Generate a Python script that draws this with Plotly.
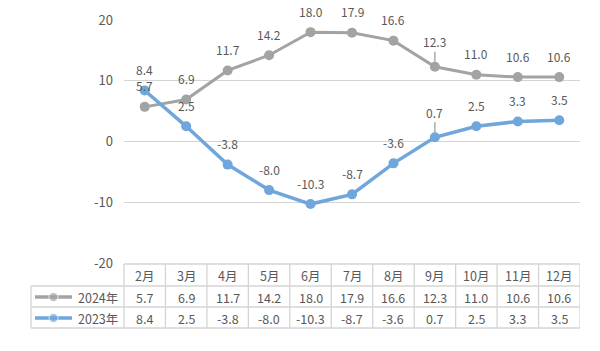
import plotly.graph_objects as go

months = ["2月", "3月", "4月", "5月", "6月", "7月", "8月", "9月", "10月", "11月", "12月"]
y2024 = [5.7, 6.9, 11.7, 14.2, 18.0, 17.9, 16.6, 12.3, 11.0, 10.6, 10.6]
y2023 = [8.4, 2.5, -3.8, -8.0, -10.3, -8.7, -3.6, 0.7, 2.5, 3.3, 3.5]
series_names = ["2024年", "2023年"]
y_ticks = [-20, -10, 0, 10, 20]
y_ticktext = ["-20", "-10", "0", "10", "20"]

GRAY = "#A3A3A3"
BLUE = "#6FA6DB"
TXT = "#595959"
GRID = "#D4D4D4"
FONT = "Noto Sans CJK SC"

W, HT = 600, 351
ML, MR, MT, MB = 0, 20, 20, 0
PLOT_L, PLOT_B = 124, 263          # pixel edges of the line chart area
AW, AH = W - ML - MR, HT - MT - MB  # axis area size
x_dom = [(PLOT_L - ML) / AW, 1]
y_dom = [(HT - MB - PLOT_B) / AH, 1]
n = len(months)

fig = go.Figure()
for name, vals, col, w in [(series_names[0], y2024, GRAY, 3), (series_names[1], y2023, BLUE, 3.5)]:
    fig.add_trace(go.Scatter(x=months, y=vals, mode="lines+markers", name=name,
                             line=dict(color=col, width=w), marker=dict(color=col, size=10),
                             cliponaxis=False, showlegend=False))

# data labels
leader = {"9月"}
for vals in (y2024, y2023):
    for m, v in zip(months, vals):
        txt = f"{v:.1f}"
        if m in leader:
            fig.add_annotation(x=m, y=v, text=txt, showarrow=True, arrowhead=0, ax=0, ay=-25,
                               arrowcolor="#7F7F7F", arrowwidth=1, standoff=5,
                               font=dict(family=FONT, size=12, color=TXT))
        else:
            fig.add_annotation(x=m, y=v, text=txt, showarrow=False, yshift=21,
                               font=dict(family=FONT, size=12, color=TXT))

# ---- data table on a pixel-unit overlay axis (x2/y2) ----
row_tops = [264, 286, 307, 328]
row_centers = [275.5, 297, 318]
left_edge = 31
col_w = (W - MR - PLOT_L) / n
xs, ys = [], []
def seg(x0, y0, x1, y1):
    xs.extend([x0, x1, None]); ys.extend([y0, y1, None])
seg(PLOT_L, row_tops[0], W - MR, row_tops[0])
for r in row_tops[1:]:
    seg(left_edge, r, W - MR, r)
for k in range(n + 1):
    xk = PLOT_L + k * col_w
    seg(xk, row_tops[0], xk, row_tops[3])
seg(left_edge, row_tops[1], left_edge, row_tops[3])
fig.add_trace(go.Scatter(x=xs, y=ys, xaxis="x2", yaxis="y2", mode="lines",
                         line=dict(color=GRID, width=1.3), hoverinfo="skip", showlegend=False))

# legend keys
for name, col, rc in ((series_names[0], GRAY, row_centers[1]), (series_names[1], BLUE, row_centers[2])):
    fig.add_trace(go.Scatter(x=[35, 53.5, 72], y=[rc, rc, rc], xaxis="x2", yaxis="y2",
                             mode="lines+markers", line=dict(color=col, width=3.5),
                             marker=dict(color=col, size=[0, 9, 0]), hoverinfo="skip",
                             showlegend=False))
    fig.add_annotation(xref="x2", yref="y2", x=120, y=rc, xanchor="right", yanchor="middle",
                       text=name, showarrow=False, font=dict(family=FONT, size=12.5, color=TXT))

for m in months:
    fig.add_annotation(x=m, xref="x", yref="y2", y=row_centers[0], yanchor="middle", text=m,
                       showarrow=False, font=dict(family=FONT, size=12.5, color=TXT))
for vals, rc in ((y2024, row_centers[1]), (y2023, row_centers[2])):
    for m, v in zip(months, vals):
        fig.add_annotation(x=m, xref="x", yref="y2", y=rc, yanchor="middle", text=f"{v:.1f}",
                           showarrow=False, font=dict(family=FONT, size=12.5, color=TXT))

hidden = dict(showgrid=False, zeroline=False, showline=False, showticklabels=False, ticks="",
              automargin=False, fixedrange=True)
fig.update_layout(
    width=W, height=HT, autosize=False,
    margin=dict(l=ML, r=MR, t=MT, b=MB, pad=0, autoexpand=False),
    paper_bgcolor="white", plot_bgcolor="rgba(0,0,0,0)",
    font=dict(family=FONT, color=TXT),
    hovermode=False, showlegend=False,
    xaxis=dict(type="category", domain=x_dom, range=[-0.5, n - 0.5], anchor="y", **hidden),
    yaxis=dict(domain=y_dom, range=[-20, 20], tickvals=y_ticks, ticktext=y_ticktext, anchor="x",
               showgrid=True, gridcolor=GRID, gridwidth=1.3, automargin=False, fixedrange=True,
               zeroline=False, showline=False, ticks="", ticklabelstandoff=10,
               tickfont=dict(family=FONT, size=13, color=TXT)),
    xaxis2=dict(domain=[0, 1], range=[ML, W - MR], anchor="y2", **hidden),
    yaxis2=dict(domain=[0, 1], range=[HT - MB, MT], anchor="x2", **hidden),
)

fig.write_html("out.html")
